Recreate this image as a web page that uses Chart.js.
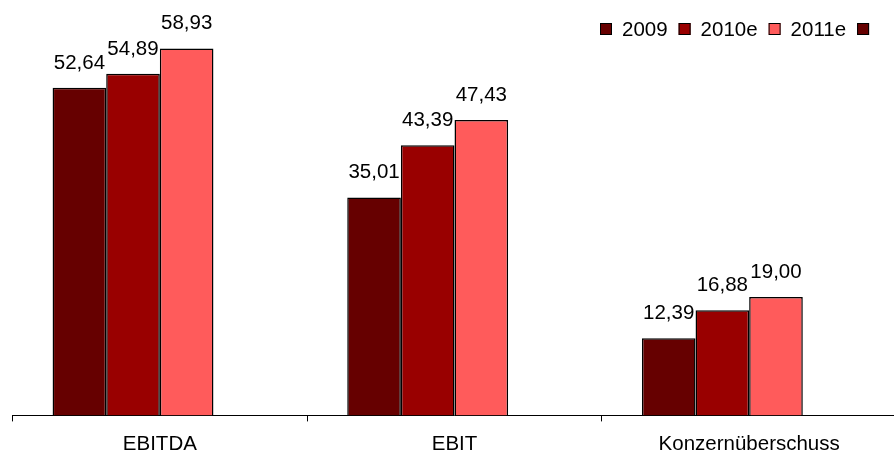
<!DOCTYPE html>
<html>
<head>
<meta charset="utf-8">
<script src="https://cdn.jsdelivr.net/npm/chart.js@4/dist/chart.umd.min.js"></script>
<style>
  html, body { margin: 0; padding: 0; background: #fff; overflow: hidden; }
  #wrap { width: 897px; height: 457px; }
</style>
</head>
<body>
<div id="wrap"><canvas id="c" width="897" height="457"></canvas></div>
<script>
// Kennzahlen in Mio. EUR
const categories = ['EBITDA', 'EBIT', 'Konzernüberschuss'];
const seriesLabels = ['2009', '2010e', '2011e', ''];
const values2009 = [52.64, 35.01, 12.39];
const values2010e = [54.89, 43.39, 16.88];
const values2011e = [58.93, 47.43, 19.00];
const valuesEmpty = [null, null, null];
const seriesColors = ['#660000', '#990000', '#FF5B5B', '#660000'];

const FONT = 'Liberation Sans, Arial, Helvetica, sans-serif';

const fmt = v => v.toFixed(2).replace('.', ',');

// Wertbeschriftung über jedem Balken
const valueLabels = {
  id: 'valueLabels',
  afterDatasetsDraw(chart) {
    const ctx = chart.ctx;
    ctx.save();
    ctx.font = '20.5px ' + FONT;
    ctx.fillStyle = '#000';
    ctx.textAlign = 'center';
    ctx.textBaseline = 'alphabetic';
    chart.data.datasets.forEach((ds, i) => {
      const meta = chart.getDatasetMeta(i);
      meta.data.forEach((bar, j) => {
        const v = ds.data[j];
        if (v === null || v === undefined) return;
        ctx.fillText(fmt(v), bar.x, bar.y - 19);
      });
    });
    ctx.restore();
  }
};

// Legende oben rechts
const topLegend = {
  id: 'topLegend',
  afterDraw(chart) {
    const ctx = chart.ctx;
    ctx.save();
    ctx.font = '20.5px ' + FONT;
    ctx.textBaseline = 'middle';
    ctx.textAlign = 'left';
    let x = 600;
    const yc = 29;
    chart.data.datasets.forEach(ds => {
      ctx.fillStyle = ds.backgroundColor;
      ctx.fillRect(x, yc - 6, 12, 12);
      ctx.strokeStyle = '#000';
      ctx.lineWidth = 1;
      ctx.strokeRect(x + 0.5, yc - 5.5, 11, 11);
      x += 22;
      if (ds.label) {
        ctx.fillStyle = '#000';
        ctx.fillText(ds.label, x, yc + 1);
        x += ctx.measureText(ds.label).width + 11;
      }
    });
    ctx.restore();
  }
};

const allValues = [values2009, values2010e, values2011e, valuesEmpty];

new Chart(document.getElementById('c'), {
  type: 'bar',
  data: {
    labels: categories,
    datasets: allValues.map((vals, i) => ({
      label: seriesLabels[i],
      data: vals,
      backgroundColor: seriesColors[i],
      borderColor: '#000',
      borderWidth: 1.5,
      categoryPercentage: 0.728,
      barPercentage: 1.0
    }))
  },
  options: {
    responsive: false,
    animation: false,
    layout: { padding: { left: 12.5, right: 0.5, top: 10.7, bottom: -11 } },
    plugins: {
      legend: { display: false },
      tooltip: { enabled: false }
    },
    scales: {
      x: {
        offset: true,
        grid: {
          offset: true,
          drawOnChartArea: false,
          drawTicks: true,
          tickLength: 6,
          color: '#000',
          lineWidth: 1
        },
        border: { display: true, color: '#000', width: 1 },
        ticks: {
          color: '#000',
          padding: 11,
          font: { family: FONT, size: 20.5 },
          maxRotation: 0
        }
      },
      y: {
        display: false,
        min: 0,
        max: 65
      }
    }
  },
  plugins: [valueLabels, topLegend]
});
</script>
</body>
</html>
